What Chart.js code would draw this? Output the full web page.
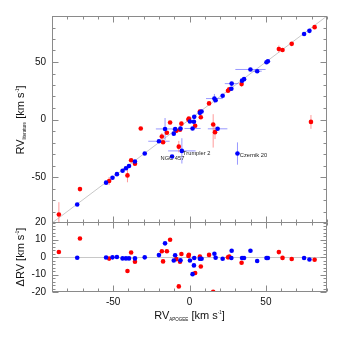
<!DOCTYPE html>
<html>
<head>
<meta charset="utf-8">
<script src="https://cdn.jsdelivr.net/npm/chart.js@4.4.1/dist/chart.umd.min.js"></script>
<style>
    html, body { margin: 0; padding: 0; background: #fff; }
    #wrap { position: relative; width: 344px; height: 344px; }
    #topBox { position: absolute; left: 0; top: 0; width: 344px; height: 240px; }
    #botBox { position: absolute; left: 0; top: 205px; width: 344px; height: 139px; }
</style>
</head>
<body>
<div id="wrap">
    <div id="topBox"><canvas id="topChart"></canvas></div>
    <div id="botBox"><canvas id="botChart"></canvas></div>
</div>
<script>
// ---------------------------------------------------------------------
// DATA
// ---------------------------------------------------------------------
const xTickLabels = [-50, 0, 50];
const yTickLabelsTop = [-50, 0, 50];
const yTickLabelsBottom = [-20, -10, 0, 10, 20];

// blue clusters: RV from APOGEE, RV from literature, errors, and delta RV
const blueApogee = [-73.5, -54.6, -50.4, -47.5, -43.8, -41.6, -39.6, -35.7, -29.3, -20.0,
    -16.0, -11.4, -10.3, -9.4, -5.9, -5.0, 0.3, 2.0, 2.9, 3.1,
    6.8, 7.9, 16.3, 17.1, 18.4, 21.7, 27.6, 27.4, 31.4, 34.4,
    35.7, 39.9, 44.3, 50.4, 51.3, 75.0, 78.5];
const blueLit = [-73.9, -54.9, -50.6, -47.5, -44.6, -42.4, -40.4, -36.5, -29.5, -18.9,
    -8.2, -32.2, -12.3, -8.4, -7.8, -27.3, -1.7, -7.8, -1.9, 2.3,
    5.8, 6.9, 18.2, 16.7, -8.1, 20.7, 31.2, 26.8, -29.6, 33.8,
    35.1, 43.5, 42.0, 49.8, 50.7, 74.4, 77.1];
const blueXErr = [0, 0, 0, 0, 0, 0, 0, 0, 0, 7,
    6, 0, 0, 0, 0, 9, 0, 5.3, 0, 0,
    0, 0, 5.5, 0, 6.4, 0, 4.5, 0, 0, 0,
    0, 9.9, 3, 0, 0, 0, 0];
const blueYErr = [0, 0, 0, 0, 0, 0, 0, 0, 0, 0,
    9.5, 0, 0, 0, 0, 11, 0, 0, 0, 0,
    0, 0, 4, 0, 0, 0, 0, 0, 9.7, 0,
    0, 0, 0, 0, 0, 0, 0];
const blueDelta = [-0.4, -0.3, -0.2, 0, -0.8, -0.8, -0.8, -0.8, -0.2, 1.1,
    7.8, null, -2.0, 1.0, -1.9, null, -2.0, -9.8, -4.8, -0.6,
    -1.0, -1.0, 1.9, -0.4, null, -1.0, 3.6, -0.6, null, -0.6,
    -0.6, 3.6, -2.3, -0.6, -0.6, -0.6, -1.4];

// red clusters
const redApogee = [-85.5, -71.7, -52.6, -40.6, -38.2, -35.7, -31.9, -18.1, -17.3, -14.8,
    -12.7, -8.6, -6.2, -7.0, -5.3, -0.7, -0.4, 3.7, 6.8, 7.4,
    12.8, 15.5, 16.7, 25.2, 26.0, 34.1, 58.5, 60.9, 66.9, 81.9, 79.5];
const redLit = [-82.6, -60.5, -53.5, -48.6, -35.4, -38.4, -7.8, -14.8, -19.8, -11.5,
    -2.6, -9.8, -8.9, -23.6, -3.6, -0.1, 0.9, -5.4, 7.0, 2.0,
    14.0, -4.4, -11.0, 25.0, 26.2, 30.8, 61.3, 60.4, 65.8, 80.3, -2.1];
const redXErr = [0, 0, 0, 0, 0, 0, 0, 0, 0, 0,
    0, 0, 0, 0, 0, 0, 0, 0, 0, 0,
    0, 0, 0, 0, 0, 0, 0, 0, 0, 0, 0];
// a number is a symmetric error, a pair is [down, up]
const redYErr = [10.7, 0, 3.5, 6, 0, 0, 0, 3, 0, 0,
    0, 0, 0, 5, 0, 0, 0, 0, 0, 0,
    0, [20, 9], 6, 0, 0, 2, 3, 0, 0, 0, 6];
const redDelta = [2.9, 10.6, -0.9, -8.0, 2.6, -2.7, null, 3.3, -2.5, 3.3,
    9.9, -1.2, -2.7, -16.8, 1.7, 0.6, 1.3, -9.1, 0.2, -5.4,
    1.2, -19.9, null, -0.2, 0.2, -3.3, 2.8, -0.5, -1.1, -1.6, null];

// labelled clusters (index into the blue arrays)
const clusterNames = ["NGC 457", "Trumpler 2", "Czernik 20"];
const clusterIndex = [11, 15, 28];

// ---------------------------------------------------------------------
// styles
// ---------------------------------------------------------------------
const FONT = "'Liberation Sans', Arial, Helvetica, sans-serif";
const TEXT = "#111";
const FRAME = "#8a8a8a";
const BLUE = "#0000ff";
const RED = "#ff0000";
const BLUE_ERR = "rgba(110,110,255,0.7)";
const RED_ERR = "rgba(255,110,110,0.7)";
const GUIDE = "#c8c8c8";
const labelOffsets = [[-11.5, 2.2], [1.2, 3], [2.4, 1.4]];

function pts(xs, ys) {
    return xs.map((x, i) => ({ x: x, y: ys[i] })).filter(p => p.y !== null);
}

// rich text: main text plus small sub/superscripts
function drawRich(ctx, parts, cx, cy, rotate) {
    ctx.save();
    ctx.translate(cx, cy);
    if (rotate) ctx.rotate(-Math.PI / 2);
    let w = 0;
    parts.forEach(p => {
        ctx.font = p.size + "px " + FONT;
        p.w = ctx.measureText(p.text).width;
        w += p.w;
    });
    let x = -w / 2;
    ctx.fillStyle = TEXT;
    ctx.textAlign = "left";
    ctx.textBaseline = "alphabetic";
    parts.forEach(p => {
        ctx.font = p.size + "px " + FONT;
        ctx.fillText(p.text, x, 4 + (p.shift || 0));
        x += p.w;
    });
    ctx.restore();
}

// box round the plot with inward ticks on all four sides
function framePlugin(xStep, xMajor, yStep, yMajor) {
    return {
        id: "frame",
        afterDatasetsDraw(chart) {
            const { ctx, chartArea: a } = chart;
            const xs = chart.scales.x, ys = chart.scales.y;
            const L = Math.round(a.left) + 0.5, R = Math.round(a.right) - 0.5;
            const T = Math.round(a.top) + 0.5, B = Math.round(a.bottom) - 0.5;
            ctx.save();
            ctx.strokeStyle = FRAME;
            ctx.lineWidth = 1;
            ctx.strokeRect(L, T, R - L, B - T);
            ctx.beginPath();
            for (let v = xs.min; v <= xs.max; v += xStep) {
                const px = Math.round(xs.getPixelForValue(v)) + 0.5;
                const len = v % xMajor === 0 ? 6 : 3;
                ctx.moveTo(px, B); ctx.lineTo(px, B - len);
                ctx.moveTo(px, T); ctx.lineTo(px, T + len);
            }
            for (let v = ys.min; v <= ys.max; v += yStep) {
                const py = Math.round(ys.getPixelForValue(v)) + 0.5;
                const len = v % yMajor === 0 ? 6 : 3;
                ctx.moveTo(L, py); ctx.lineTo(L + len, py);
                ctx.moveTo(R, py); ctx.lineTo(R - len, py);
            }
            ctx.stroke();
            ctx.restore();
        }
    };
}

function drawErrors(ctx, xs, ys, xv, yv, xe, ye, color) {
    ctx.strokeStyle = color;
    ctx.beginPath();
    xv.forEach((x, i) => {
        const y = yv[i];
        const py = ys.getPixelForValue(y), px = xs.getPixelForValue(x);
        if (xe[i]) {
            ctx.moveTo(xs.getPixelForValue(x - xe[i]), py);
            ctx.lineTo(xs.getPixelForValue(x + xe[i]), py);
        }
        if (ye[i]) {
            const lo = Array.isArray(ye[i]) ? ye[i][0] : ye[i];
            const hi = Array.isArray(ye[i]) ? ye[i][1] : ye[i];
            ctx.moveTo(px, ys.getPixelForValue(y - lo));
            ctx.lineTo(px, ys.getPixelForValue(y + hi));
        }
    });
    ctx.stroke();
}

const topExtras = {
    id: "topExtras",
    beforeDatasetsDraw(chart) {
        const { ctx, chartArea: a } = chart;
        const xs = chart.scales.x, ys = chart.scales.y;
        ctx.save();
        ctx.beginPath();
        ctx.rect(a.left, a.top, a.right - a.left, a.bottom - a.top);
        ctx.clip();
        // one-to-one line
        ctx.strokeStyle = GUIDE;
        ctx.lineWidth = 1;
        ctx.beginPath();
        ctx.moveTo(xs.getPixelForValue(xs.min), ys.getPixelForValue(ys.min));
        ctx.lineTo(xs.getPixelForValue(xs.max), ys.getPixelForValue(ys.max));
        ctx.stroke();
        drawErrors(ctx, xs, ys, blueApogee, blueLit, blueXErr, blueYErr, BLUE_ERR);
        drawErrors(ctx, xs, ys, redApogee, redLit, redXErr, redYErr, RED_ERR);
        ctx.restore();
    },
    afterDatasetsDraw(chart) {
        const ctx = chart.ctx;
        const xs = chart.scales.x, ys = chart.scales.y;
        ctx.save();
        ctx.font = "5.7px " + FONT;
        ctx.fillStyle = "#222";
        ctx.textAlign = "left";
        ctx.textBaseline = "middle";
        clusterNames.forEach((name, k) => {
            const i = clusterIndex[k];
            const px = xs.getPixelForValue(blueApogee[i]) + labelOffsets[k][0];
            const py = ys.getPixelForValue(blueLit[i]) + labelOffsets[k][1];
            ctx.fillText(name, px, py);
        });
        ctx.restore();
    },
    afterDraw(chart) {
        drawRich(chart.ctx, [
            { text: "RV", size: 11 },
            { text: "literature", size: 4.5, shift: 1.5 },
            { text: " [km s", size: 11 },
            { text: "-1", size: 4.5, shift: -5 },
            { text: "]", size: 11 }
        ], 20, 120, true);
    }
};

const bottomExtras = {
    id: "bottomExtras",
    beforeDatasetsDraw(chart) {
        const ctx = chart.ctx;
        const xs = chart.scales.x, ys = chart.scales.y;
        ctx.save();
        ctx.strokeStyle = GUIDE;
        ctx.lineWidth = 1;
        ctx.beginPath();
        const py = Math.round(ys.getPixelForValue(0)) + 0.5;
        ctx.moveTo(xs.getPixelForValue(xs.min), py);
        ctx.lineTo(xs.getPixelForValue(xs.max), py);
        ctx.stroke();
        ctx.restore();
    },
    afterDraw(chart) {
        // canvas starts 205px down the page
        drawRich(chart.ctx, [
            { text: "\u0394RV [km s", size: 11 },
            { text: "-1", size: 4.5, shift: -5 },
            { text: "]", size: 11 }
        ], 20, 52, true);
        drawRich(chart.ctx, [
            { text: "RV", size: 11 },
            { text: "APOGEE", size: 4.5, shift: 1.5 },
            { text: " [km s", size: 11 },
            { text: "-1", size: 4.5, shift: -5 },
            { text: "]", size: 11 }
        ], 189.5, 110, false);
    }
};

function tickFont() {
    return { family: FONT, size: 10 };
}

// ---------------------------------------------------------------------
// TOP PANEL: RV literature vs RV APOGEE
// ---------------------------------------------------------------------
new Chart(document.getElementById("topChart"), {
    type: "scatter",
    data: {
        datasets: [
            { label: "blue", data: pts(blueApogee, blueLit), backgroundColor: BLUE,
              borderWidth: 0, pointRadius: 2.3 },
            { label: "red", data: pts(redApogee, redLit), backgroundColor: RED,
              borderWidth: 0, pointRadius: 2.3 }
        ]
    },
    options: {
        responsive: true, maintainAspectRatio: false, animation: false,
        layout: { padding: { top: 16, right: 17, bottom: 17, left: 0 } },
        plugins: { legend: { display: false }, tooltip: { enabled: false } },
        scales: {
            x: { type: "linear", min: -90, max: 90, display: false },
            y: {
                type: "linear", min: -90, max: 90,
                grid: { display: false, drawTicks: false },
                border: { display: false },
                ticks: { font: tickFont(), color: TEXT, padding: 6 },
                afterBuildTicks: s => { s.ticks = yTickLabelsTop.map(v => ({ value: v })); },
                afterFit: s => { s.width = 52; }
            }
        }
    },
    plugins: [topExtras, framePlugin(10, 50, 10, 50)]
});

// ---------------------------------------------------------------------
// BOTTOM PANEL: delta RV vs RV APOGEE
// ---------------------------------------------------------------------
new Chart(document.getElementById("botChart"), {
    type: "scatter",
    data: {
        datasets: [
            { label: "blue", data: pts(blueApogee, blueDelta), backgroundColor: BLUE,
              borderWidth: 0, pointRadius: 2.3 },
            { label: "red", data: pts(redApogee, redDelta), backgroundColor: RED,
              borderWidth: 0, pointRadius: 2.3 }
        ]
    },
    options: {
        responsive: true, maintainAspectRatio: false, animation: false,
        layout: { padding: { top: 17, right: 17, bottom: 0, left: 0 } },
        plugins: { legend: { display: false }, tooltip: { enabled: false } },
        scales: {
            x: {
                type: "linear", min: -90, max: 90,
                grid: { display: false, drawTicks: false },
                border: { display: false },
                ticks: { font: tickFont(), color: TEXT, padding: 4, maxRotation: 0 },
                afterBuildTicks: s => { s.ticks = xTickLabels.map(v => ({ value: v })); },
                afterFit: s => { s.height = 52; }
            },
            y: {
                type: "linear", min: -20, max: 20,
                grid: { display: false, drawTicks: false },
                border: { display: false },
                ticks: { font: tickFont(), color: TEXT, padding: 6 },
                afterBuildTicks: s => { s.ticks = yTickLabelsBottom.map(v => ({ value: v })); },
                afterFit: s => { s.width = 52; }
            }
        }
    },
    plugins: [bottomExtras, framePlugin(10, 50, 2, 10)]
});
</script>
</body>
</html>
